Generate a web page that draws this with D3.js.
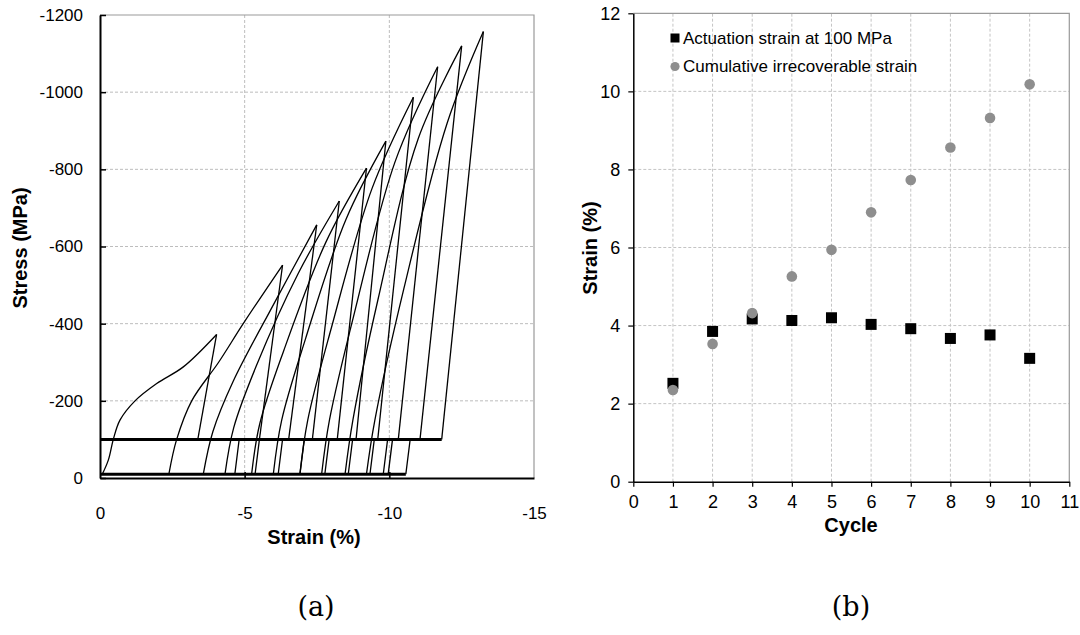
<!DOCTYPE html>
<html>
<head>
<meta charset="utf-8">
<script src="https://cdn.jsdelivr.net/npm/d3@7"></script>
<style>
  body { margin: 0; background: #fff; }
  text { font-family: Arial, "Liberation Sans", sans-serif; fill: #000; }
</style>
</head>
<body>
<svg id="chart" width="1080" height="635"></svg>
<script>
// ---- panel (a): stress-strain loops ----
const strainTicks = [0, -5, -10, -15];
const stressTicks = [0, -200, -400, -600, -800, -1000, -1200];

// loading branch of each cycle, [strain %, stress MPa]
const loadingCurves = [
  [[-0.08, -10], [-0.29, -47], [-0.46, -100], [-0.69, -150], [-1.21, -200], [-1.96, -245], [-2.88, -288], [-4.03, -372]],
  [[-2.38, -10], [-2.65, -100], [-3.17, -200], [-4.1, -300], [-4.95, -400], [-6.31, -552]],
  [[-3.57, -10], [-3.9, -120], [-4.6, -250], [-6.0, -450], [-7.49, -656]],
  [[-4.32, -10], [-4.62, -130], [-5.4, -290], [-6.85, -530], [-8.27, -718]],
  [[-5.24, -10], [-5.52, -140], [-6.35, -330], [-7.8, -610], [-9.21, -803]],
  [[-5.99, -10], [-6.28, -150], [-7.1, -360], [-8.5, -670], [-9.88, -873]],
  [[-6.91, -10], [-7.18, -150], [-8.0, -390], [-9.4, -750], [-10.83, -987]],
  [[-7.66, -10], [-7.93, -150], [-8.8, -430], [-10.2, -820], [-11.67, -1066]],
  [[-8.47, -10], [-8.74, -150], [-9.6, -460], [-11.0, -880], [-12.5, -1120]],
  [[-9.21, -10], [-9.5, -150], [-10.5, -490], [-12.0, -920], [-13.25, -1157]]
];
const peakStrain = [-4.03, -6.31, -7.49, -8.27, -9.21, -9.88, -10.83, -11.67, -12.5, -13.25];
const peakStress = [-372, -552, -656, -718, -803, -873, -987, -1066, -1120, -1157];
const unloadEnd = [-3.38, -5.51, -6.52, -7.34, -8.2, -8.85, -9.6, -10.31, -11.06, -11.81];
const dropTop = [-4.81, -5.51, -6.31, -7.06, -7.92, -8.73, -9.48, -9.94, -10.11, -10.72];
const dropBottom = [-4.66, -5.36, -6.16, -6.91, -7.77, -8.58, -9.33, -9.79, -9.96, -10.57];
const holdStress = -100;
const restStress = -10;

// ---- panel (b): strain per cycle ----
const cycles = [1, 2, 3, 4, 5, 6, 7, 8, 9, 10];
const actuationStrain = [2.52, 3.85, 4.17, 4.13, 4.2, 4.03, 3.92, 3.67, 3.76, 3.16];
const irrecoverableStrain = [2.35, 3.53, 4.32, 5.26, 5.94, 6.9, 7.73, 8.56, 9.32, 10.18];
const cycleTicks = d3.range(0, 12);
const strainPctTicks = [0, 2, 4, 6, 8, 10, 12];

const svg = d3.select("#chart");

// ================= panel (a) =================
const xA = d3.scaleLinear().domain([0, -15]).range([100, 534]);
const yA = d3.scaleLinear().domain([0, -1200]).range([478, 15]);

let gA = svg.append("g");

// dashed grid
gA.selectAll(".vgrid")
  .data(strainTicks.slice(1, -1))
  .enter().append("line")
  .attr("x1", d => xA(d)).attr("x2", d => xA(d))
  .attr("y1", yA(0)).attr("y2", yA(-1200))
  .style("stroke", "#bdbdbd").style("stroke-dasharray", "3,2");
gA.selectAll(".hgrid")
  .data(stressTicks.slice(1, -1))
  .enter().append("line")
  .attr("x1", xA(0)).attr("x2", xA(-15))
  .attr("y1", d => yA(d)).attr("y2", d => yA(d))
  .style("stroke", "#bdbdbd").style("stroke-dasharray", "3,2");

// grey top / right frame
gA.append("path")
  .attr("d", "M" + xA(0) + "," + yA(-1200) + "H" + xA(-15) + "V" + yA(0))
  .style("fill", "none").style("stroke", "#9a9a9a").style("stroke-width", 1.2);

// thick hold lines (many cycles overlapping)
gA.append("line")
  .attr("x1", xA(0)).attr("x2", xA(d3.min(unloadEnd)))
  .attr("y1", yA(holdStress)).attr("y2", yA(holdStress))
  .style("stroke", "#000").style("stroke-width", 3);
gA.append("line")
  .attr("x1", xA(0)).attr("x2", xA(d3.min(dropBottom)))
  .attr("y1", yA(restStress)).attr("y2", yA(restStress))
  .style("stroke", "#000").style("stroke-width", 3);

const loadLine = d3.line()
  .x(d => xA(d[0])).y(d => yA(d[1]))
  .curve(d3.curveCatmullRom.alpha(0.5));

// loading branches
gA.selectAll(".load")
  .data(loadingCurves)
  .enter().append("path")
  .attr("d", loadLine)
  .style("fill", "none").style("stroke", "#000").style("stroke-width", 1.3);

// unloading to 100 MPa
gA.selectAll(".unload")
  .data(cycles)
  .enter().append("line")
  .attr("x1", (d, i) => xA(peakStrain[i])).attr("y1", (d, i) => yA(peakStress[i]))
  .attr("x2", (d, i) => xA(unloadEnd[i])).attr("y2", yA(holdStress))
  .style("stroke", "#000").style("stroke-width", 1.3);

// unloading from 100 MPa to rest
gA.selectAll(".drop")
  .data(cycles)
  .enter().append("line")
  .attr("x1", (d, i) => xA(dropTop[i])).attr("y1", yA(holdStress))
  .attr("x2", (d, i) => xA(dropBottom[i])).attr("y2", yA(restStress))
  .style("stroke", "#000").style("stroke-width", 1.3);

// axes
let axA_y = gA.append("g")
  .attr("transform", "translate(" + xA(0) + ",0)")
  .call(d3.axisLeft(yA).tickValues(stressTicks).tickSize(-6).tickSizeOuter(0).tickPadding(17).tickFormat(d => String(d)));
let axA_x = gA.append("g")
  .attr("transform", "translate(0," + yA(0) + ")")
  .call(d3.axisBottom(xA).tickValues(strainTicks).tickSize(-6).tickSizeOuter(0).tickPadding(29).tickFormat(d => String(d)));
[axA_y, axA_x].forEach(a => {
  a.select(".domain").style("stroke", "#000").style("stroke-width", 2);
  a.selectAll(".tick line").style("stroke", "#000").style("stroke-width", 1.5);
  a.selectAll("text").style("font-size", "17px");
});
axA_x.selectAll(".tick").filter(d => d === 0 || d === -15).select("line").remove();

gA.append("text")
  .attr("x", 314).attr("y", 544)
  .attr("text-anchor", "middle")
  .style("font-size", "20px").style("font-weight", "bold")
  .text("Strain (%)");
gA.append("text")
  .attr("transform", "translate(27,248) rotate(-90)")
  .attr("text-anchor", "middle")
  .style("font-size", "20px").style("font-weight", "bold")
  .text("Stress (MPa)");

// ================= panel (b) =================
const xB = d3.scaleLinear().domain([0, 11]).range([633.3, 1069.3]);
const yB = d3.scaleLinear().domain([0, 12]).range([481.7, 13.3]);

let gB = svg.append("g");

gB.selectAll(".vgrid")
  .data(cycleTicks.slice(1, -1))
  .enter().append("line")
  .attr("x1", d => xB(d)).attr("x2", d => xB(d))
  .attr("y1", yB(0)).attr("y2", yB(12))
  .style("stroke", "#c4c4c4").style("stroke-dasharray", "3,2");
gB.selectAll(".hgrid")
  .data(strainPctTicks.slice(1, -1))
  .enter().append("line")
  .attr("x1", xB(0)).attr("x2", xB(11))
  .attr("y1", d => yB(d)).attr("y2", d => yB(d))
  .style("stroke", "#c4c4c4").style("stroke-dasharray", "3,2");

gB.append("path")
  .attr("d", "M" + xB(0) + "," + yB(12) + "H" + xB(11) + "V" + yB(0))
  .style("fill", "none").style("stroke", "#9a9a9a").style("stroke-width", 1.2);

let axB_y = gB.append("g")
  .attr("transform", "translate(" + xB(0) + ",0)")
  .call(d3.axisLeft(yB).tickValues(strainPctTicks).tickSize(5).tickSizeOuter(0).tickPadding(8).tickFormat(d => String(d)));
let axB_x = gB.append("g")
  .attr("transform", "translate(0," + yB(0) + ")")
  .call(d3.axisBottom(xB).tickValues(cycleTicks).tickSize(5).tickSizeOuter(0).tickPadding(9).tickFormat(d => String(d)));
[axB_y, axB_x].forEach(a => {
  a.select(".domain").style("stroke", "#000").style("stroke-width", 1.5);
  a.selectAll(".tick line").style("stroke", "#000").style("stroke-width", 1.2);
  a.selectAll("text").style("font-size", "18px");
});

// actuation strain squares
gB.selectAll(".sq")
  .data(cycles)
  .enter().append("rect")
  .attr("x", (d, i) => xB(d) - 5.5).attr("y", (d, i) => yB(actuationStrain[i]) - 5.5)
  .attr("width", 11).attr("height", 11)
  .style("fill", "#000");

// cumulative irrecoverable strain circles
gB.selectAll(".dot")
  .data(cycles)
  .enter().append("circle")
  .attr("cx", d => xB(d)).attr("cy", (d, i) => yB(irrecoverableStrain[i]))
  .attr("r", 5.3)
  .style("fill", "#8e8e8e");

// legend
gB.append("rect").attr("x", 670.5).attr("y", 33.5).attr("width", 9).attr("height", 9).style("fill", "#000");
gB.append("text").attr("x", 683).attr("y", 44).style("font-size", "17px").text("Actuation strain at 100 MPa");
gB.append("circle").attr("cx", 675).attr("cy", 66.5).attr("r", 4.6).style("fill", "#8e8e8e");
gB.append("text").attr("x", 683).attr("y", 72).style("font-size", "17px").text("Cumulative irrecoverable strain");

gB.append("text")
  .attr("x", 851).attr("y", 532)
  .attr("text-anchor", "middle")
  .style("font-size", "20px").style("font-weight", "bold")
  .text("Cycle");
gB.append("text")
  .attr("transform", "translate(597,248) rotate(-90)")
  .attr("text-anchor", "middle")
  .style("font-size", "20px").style("font-weight", "bold")
  .text("Strain (%)");

// captions
svg.append("text").attr("x", 316).attr("y", 616).attr("text-anchor", "middle")
  .style("font-family", "'DejaVu Serif', 'Liberation Serif', serif").style("font-size", "27px")
  .text("(a)");
svg.append("text").attr("x", 851).attr("y", 616).attr("text-anchor", "middle")
  .style("font-family", "'DejaVu Serif', 'Liberation Serif', serif").style("font-size", "27px")
  .text("(b)");
</script>
</body>
</html>
